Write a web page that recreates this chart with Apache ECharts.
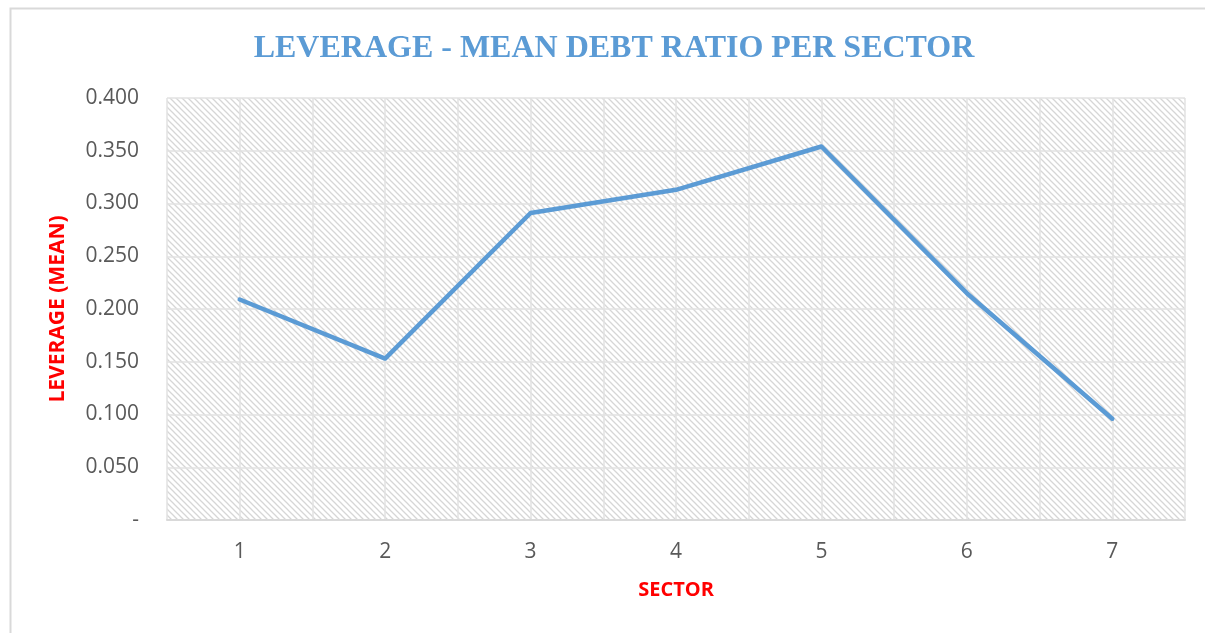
<!DOCTYPE html>
<html>
<head>
<meta charset="utf-8">
<script src="https://cdn.jsdelivr.net/npm/echarts@6/dist/echarts.min.js"></script>
<style>
html,body{margin:0;padding:0;background:#fff;}
#c{width:1205px;height:633px;}
</style>
</head>
<body>
<div id="c"></div>
<script>
const sectors = [1, 2, 3, 4, 5, 6, 7];
const leverage = [0.209, 0.153, 0.291, 0.313, 0.354, 0.215, 0.096];
const yTicks = [0, 0.05, 0.1, 0.15, 0.2, 0.25, 0.3, 0.35, 0.4];

const pc = document.createElement('canvas');
pc.width = 6; pc.height = 6;
const g = pc.getContext('2d');
g.strokeStyle = '#d6d6d6';
g.lineWidth = 1.3;
g.beginPath();
g.moveTo(-1, -1); g.lineTo(7, 7);
g.moveTo(-4, 2); g.lineTo(4, 10);
g.moveTo(2, -4); g.lineTo(10, 4);
g.stroke();

const chart = echarts.init(document.getElementById('c'), null, {renderer: 'canvas'});
const font = '"Open Sans", "Liberation Sans", sans-serif';
chart.setOption({
  animation: false,
  backgroundColor: '#fff',
  title: {
    text: 'LEVERAGE - MEAN DEBT RATIO PER SECTOR',
    left: 609, top: 28, textAlign: 'center',
    textStyle: {fontFamily: '"Liberation Serif", "DejaVu Serif", serif', fontWeight: 'bold', fontSize: 32, color: '#5B9BD5'}
  },
  graphic: [{
    type: 'rect', left: 8, top: 6, z: 100, silent: true,
    shape: {width: 1210, height: 640},
    style: {fill: null, stroke: '#d9d9d9', lineWidth: 2}
  }],
  grid: {
    left: 167, right: 20, top: 98, bottom: 113,
    show: true, borderWidth: 0,
    backgroundColor: {image: pc, repeat: 'repeat'}
  },
  xAxis: {
    type: 'value', min: 0.5, max: 7.5, interval: 0.5,
    name: 'SECTOR', nameLocation: 'middle', nameGap: 60,
    nameTextStyle: {color: '#FF0000', fontWeight: 'bold', fontSize: 20, fontFamily: font},
    axisLine: {show: true, lineStyle: {color: '#d9d9d9', width: 2}},
    axisTick: {show: false},
    splitLine: {show: true, lineStyle: {color: '#e2e2e2', width: 1.5}},
    axisLabel: {
      color: '#595959', fontSize: 21, fontFamily: font, margin: 22,
      showMinLabel: false, showMaxLabel: false,
      formatter: v => (Number.isInteger(v) && sectors.includes(v)) ? String(v) : ''
    }
  },
  yAxis: {
    type: 'value', min: yTicks[0], max: yTicks[yTicks.length - 1], interval: 0.05,
    name: 'LEVERAGE (MEAN)', nameLocation: 'middle', nameGap: 98,
    nameTextStyle: {color: '#FF0000', fontWeight: 'bold', fontSize: 21, fontFamily: font},
    axisLine: {show: false}, axisTick: {show: false},
    splitLine: {show: true, lineStyle: {color: '#e2e2e2', width: 1.5}},
    axisLabel: {
      color: '#595959', fontSize: 21, fontFamily: font, margin: 28,
      formatter: v => v === 0 ? '-' : v.toFixed(3)
    }
  },
  series: [{
    type: 'line',
    data: sectors.map((s, i) => [s, leverage[i]]),
    showSymbol: false,
    lineStyle: {color: '#5B9BD5', width: 4.5, cap: 'round', join: 'round'},
    itemStyle: {color: '#5B9BD5'}
  }]
});
</script>
</body>
</html>
